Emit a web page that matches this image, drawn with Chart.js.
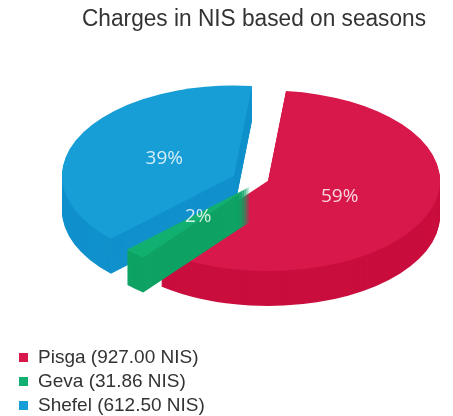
<!DOCTYPE html>
<html>
<head>
<meta charset="utf-8">
<script src="https://cdn.jsdelivr.net/npm/chart.js@4.4.1/dist/chart.umd.min.js"></script>
<style>
  html, body { margin: 0; padding: 0; background: #fff; }
  #wrap { position: relative; width: 453px; height: 416px; }
  #legend { position: absolute; left: 19px; top: 345px; font: 19px "Liberation Sans", Arial, sans-serif; color: #333; }
  .item { height: 24px; line-height: 24px; display: flex; align-items: center; }
  .box { width: 9px; height: 9px; margin-right: 10px; }
</style>
</head>
<body>
<div id="wrap">
  <canvas id="chart" width="453" height="416"></canvas>
  <div id="legend"></div>
</div>
<script>
// data
const seasons = ['Pisga', 'Geva', 'Shefel'];
const charges = [927.00, 31.86, 612.50];

// styles
const topColors = ['#d8184a', '#12b070', '#179ed6'];
const sideColors = ['#c90e3e', '#0ea264', '#1191cc'];
// pulled-out slices, screen offset [dx, dy]
const explode = [[14, 0], [-4, 6], [-20, -5]];

const total = charges.reduce((s, v) => s + v, 0);

// fake 3D: squash the pie and extrude it downwards
const pie3d = {
    id: 'pie3d',
    beforeDatasetsDraw(chart, args, opts) {
        const ctx = chart.ctx;
        const area = chart.chartArea;
        const arcs = chart.getDatasetMeta(0).data;
        if (!arcs.length) return false;

        const depth = opts.depth;
        const rx = area.width / 2;
        const ry = (area.height - depth) / 2;
        const cx = (area.left + area.right) / 2;
        const cy = area.top + ry;
        const R = arcs[0].outerRadius;
        const ox = arcs[0].x, oy = arcs[0].y;

        const matrixFor = (i, dy) => {
            const m = new DOMMatrix();
            m.translateSelf(cx + explode[i][0], cy + explode[i][1] + dy);
            m.scaleSelf(rx / R, ry / R);
            m.translateSelf(-ox, -oy);
            return m;
        };

        const slice = (i, dy, color) => {
            const a = arcs[i];
            ctx.save();
            const m = matrixFor(i, dy);
            ctx.transform(m.a, m.b, m.c, m.d, m.e, m.f);
            ctx.beginPath();
            ctx.moveTo(a.x, a.y);
            ctx.arc(a.x, a.y, a.outerRadius, a.startAngle, a.endAngle);
            ctx.closePath();
            ctx.fillStyle = color;
            ctx.fill();
            ctx.restore();
        };

        // back to front
        const order = arcs.map((a, i) => i).sort((p, q) => {
            const mp = (arcs[p].startAngle + arcs[p].endAngle) / 2;
            const mq = (arcs[q].startAngle + arcs[q].endAngle) / 2;
            return Math.sin(mp) - Math.sin(mq);
        });

        order.forEach(i => {
            for (let d = depth; d >= 1; d--) slice(i, d, sideColors[i]);
            slice(i, 0, topColors[i]);
        });

        // percentage labels on the top faces
        ctx.save();
        ctx.font = '19px "Open Sans", "Liberation Sans", sans-serif';
        ctx.fillStyle = 'rgba(255,255,255,0.82)';
        ctx.textAlign = 'center';
        ctx.textBaseline = 'middle';
        arcs.forEach((a, i) => {
            const p = a.getCenterPoint();
            const q = matrixFor(i, 0).transformPoint({ x: ox + (p.x - ox) * 0.9, y: oy + (p.y - oy) * 0.9 });
            ctx.fillText(Math.round(charges[i] / total * 100) + '%', q.x, q.y);
        });
        ctx.restore();

        return false;
    }
};

new Chart(document.getElementById('chart'), {
    type: 'pie',
    data: {
        labels: seasons,
        datasets: [{
            data: charges,
            backgroundColor: topColors,
            borderWidth: 0
        }]
    },
    options: {
        responsive: false,
        animation: false,
        rotation: 6,
        layout: { padding: { left: 82, right: 27, top: 0, bottom: 110 } },
        plugins: {
            legend: { display: false },
            tooltip: { enabled: false },
            title: {
                display: true,
                text: 'Charges in NIS based on seasons',
                color: '#333',
                font: { size: 23, family: '"Liberation Sans", Arial, sans-serif', weight: 'normal' },
                padding: { top: 6, bottom: 57 }
            },
            pie3d: { depth: 35 }
        }
    },
    plugins: [pie3d]
});

// legend
const legend = document.getElementById('legend');
seasons.forEach((name, i) => {
    const row = document.createElement('div');
    row.className = 'item';
    const box = document.createElement('span');
    box.className = 'box';
    box.style.background = topColors[i];
    row.appendChild(box);
    row.appendChild(document.createTextNode(name + ' (' + charges[i].toFixed(2) + ' NIS)'));
    legend.appendChild(row);
});
</script>
</body>
</html>
